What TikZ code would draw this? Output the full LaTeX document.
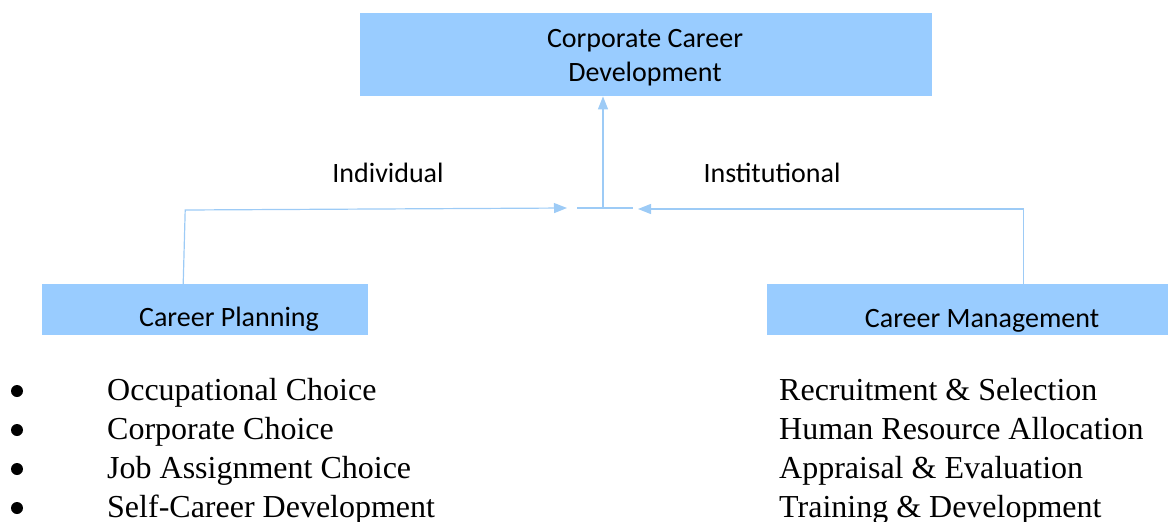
\documentclass[tikz,border=0pt]{standalone}
\usepackage{fontspec}
\setmainfont{Liberation Serif}
\newfontfamily\boxfont{Carlito}
\usetikzlibrary{arrows.meta}
\definecolor{boxblue}{HTML}{99CCFF}
\definecolor{linkblue}{HTML}{9DCBF6}
\begin{document}
\begin{tikzpicture}[x=1pt,y=-1pt,
  box/.style={fill=boxblue,draw=none,inner sep=0pt,anchor=north west},
  boxtext/.style={font=\boxfont\fontsize{28}{34}\selectfont,text=black,inner sep=0pt,anchor=base,align=center},
  listtext/.style={font=\fontsize{32}{39}\selectfont,inner sep=0pt,anchor=base west},
  dot/.style={circle,fill=black,inner sep=0pt,minimum size=12pt},
  link/.style={draw=linkblue,line width=1.2pt},
  linkarrow/.style={link,-{Triangle[length=13pt,width=10pt]}}]
  \useasboundingbox (0,0) rectangle (1168,522);

  % boxes
  \node[box,minimum width=572pt,minimum height=83pt] (top) at (360,13) {};
  \node[box,minimum width=326pt,minimum height=51pt] (cp) at (42,284) {};
  \node[box,minimum width=401pt,minimum height=51pt] (cm) at (767,284) {};

  % box captions
  \node[boxtext] (toptxt1) at (645,47) {Corporate Career};
  \node[boxtext] (toptxt2) at (645,81) {Development};
  \node[boxtext] (cptxt) at (229,326) {Career Planning};
  \node[boxtext] (cmtxt) at (982,327) {Career Management};

  % side labels
  \node[boxtext] (ind) at (388,182) {Individual};
  \node[boxtext] (inst) at (772,182) {Institutional};

  % junction points
  \coordinate (jl) at (567,208);
  \coordinate (jr) at (638,209);
  \coordinate (ja) at (577,208);
  \coordinate (jb) at (633,208);
  \coordinate (jm) at (603,208);

  % connectors
  \draw[linkarrow] ([xshift=-22pt]cp.north) -- ++(2,-74) -- (jl);
  \draw[linkarrow] ([xshift=55.5pt]cm.north) |- (jr);
  \draw[link] (ja) -- (jb);
  \draw[linkarrow] (jm) -- (jm |- top.south);

  % left list
  \foreach \i/\t in {0/Occupational Choice,1/Corporate Choice,2/Job Assignment Choice,3/Self-Career Development}{
    \node[dot] (b\i) at (17,391+39*\i) {};
    \node[listtext] (l\i) at (107,400+39*\i) {\t};
  }
  % right list
  \foreach \i/\t in {0/Recruitment \& Selection,1/Human Resource Allocation,2/Appraisal \& Evaluation,3/Training \& Development}{
    \node[listtext] (r\i) at (779,400+39*\i) {\t};
  }
\end{tikzpicture}
\end{document}
